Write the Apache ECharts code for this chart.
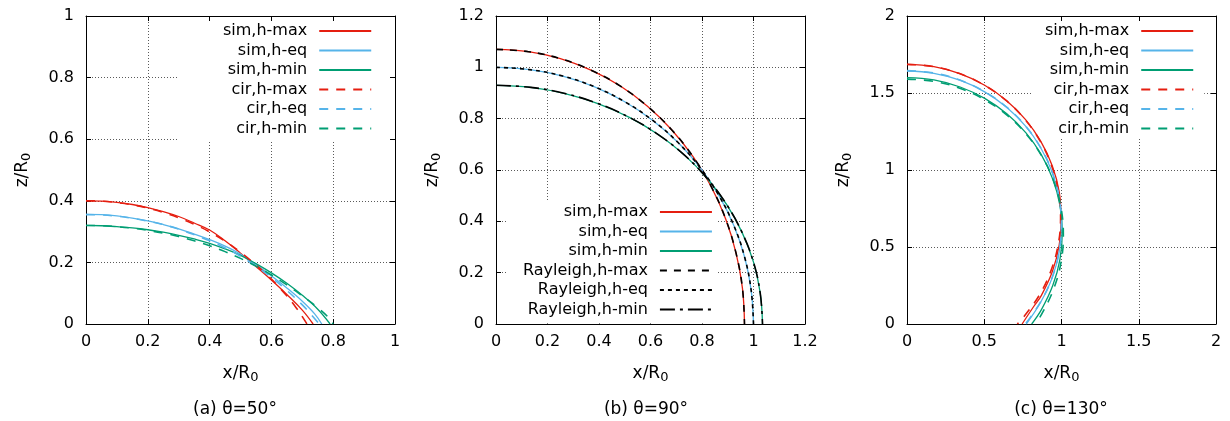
<!DOCTYPE html>
<html><head><meta charset="utf-8">
<script src="https://cdn.jsdelivr.net/npm/echarts@6/dist/echarts.min.js"></script>
<style>html,body{margin:0;padding:0;background:#fff}#c{width:1230px;height:421px}</style>
</head><body><div id="c"></div>
<script>
// ---------- data (x/R0, z/R0) ----------
// (a) theta = 50 deg
const aSimMax = [[0,0.400],[0.05,0.399],[0.1,0.395],[0.15,0.388],[0.2,0.378],[0.25,0.365],[0.3,0.349],[0.35,0.328],[0.4,0.305],[0.45,0.270],[0.5,0.230],[0.55,0.187],[0.6,0.143],[0.65,0.096],[0.7,0.045],[0.735,0]];
const aSimEq  = [[0,0.356],[0.05,0.355],[0.1,0.351],[0.15,0.344],[0.2,0.335],[0.25,0.323],[0.3,0.309],[0.35,0.292],[0.4,0.274],[0.45,0.253],[0.5,0.227],[0.55,0.193],[0.6,0.156],[0.65,0.117],[0.7,0.074],[0.74,0.033],[0.763,0]];
const aSimMin = [[0,0.320],[0.05,0.319],[0.1,0.316],[0.15,0.312],[0.2,0.306],[0.25,0.298],[0.3,0.288],[0.35,0.276],[0.4,0.262],[0.45,0.244],[0.5,0.223],[0.55,0.196],[0.6,0.166],[0.65,0.132],[0.7,0.093],[0.75,0.048],[0.79,0]];
const aCirMax = [[0,0.400],[0.05,0.399],[0.1,0.394],[0.15,0.387],[0.2,0.376],[0.25,0.362],[0.3,0.345],[0.35,0.324],[0.4,0.299],[0.45,0.269],[0.5,0.233],[0.55,0.192],[0.6,0.146],[0.65,0.091],[0.68,0.053],[0.7,0.024],[0.715,0]];
const aCirEq  = [[0,0.355],[0.05,0.354],[0.1,0.350],[0.15,0.343],[0.2,0.334],[0.25,0.323],[0.3,0.308],[0.35,0.290],[0.4,0.270],[0.45,0.247],[0.5,0.220],[0.55,0.188],[0.6,0.151],[0.65,0.109],[0.7,0.062],[0.73,0.029],[0.755,0]];
const aCirMin = [[0,0.320],[0.05,0.319],[0.1,0.316],[0.15,0.311],[0.2,0.304],[0.25,0.295],[0.3,0.284],[0.35,0.270],[0.4,0.254],[0.45,0.235],[0.5,0.213],[0.55,0.188],[0.6,0.159],[0.65,0.127],[0.7,0.091],[0.75,0.053],[0.78,0.026],[0.8,0]];
// (b) theta = 90 deg
const bSimMax = [[0,1.070],[0.126,1.061],[0.250,1.034],[0.369,0.989],[0.483,0.927],[0.587,0.849],[0.682,0.757],[0.766,0.651],[0.836,0.535],[0.892,0.409],[0.932,0.277],[0.957,0.140],[0.965,0]];
const bSimEq  = [[0,1.000],[0.131,0.991],[0.259,0.966],[0.383,0.924],[0.500,0.866],[0.609,0.793],[0.707,0.707],[0.793,0.609],[0.866,0.500],[0.924,0.383],[0.966,0.259],[0.991,0.131],[1.000,0]];
const bSimMin = [[0,0.930],[0.135,0.922],[0.268,0.898],[0.396,0.859],[0.518,0.805],[0.630,0.738],[0.732,0.658],[0.821,0.566],[0.896,0.465],[0.956,0.356],[1.000,0.241],[1.026,0.121],[1.035,0]];
const bRayMax = [[0,1.070],[0.126,1.061],[0.250,1.034],[0.369,0.989],[0.483,0.927],[0.587,0.849],[0.682,0.757],[0.766,0.651],[0.836,0.535],[0.892,0.409],[0.932,0.277],[0.957,0.140],[0.965,0]];
const bRayEq  = [[0,1.000],[0.131,0.991],[0.259,0.966],[0.383,0.924],[0.500,0.866],[0.609,0.793],[0.707,0.707],[0.793,0.609],[0.866,0.500],[0.924,0.383],[0.966,0.259],[0.991,0.131],[1.000,0]];
const bRayMin = [[0,0.930],[0.135,0.922],[0.268,0.898],[0.396,0.859],[0.518,0.805],[0.630,0.738],[0.732,0.658],[0.821,0.566],[0.896,0.465],[0.956,0.356],[1.000,0.241],[1.026,0.121],[1.035,0]];
// (c) theta = 130 deg
const cSimMax = [[0,1.686],[0.174,1.671],[0.342,1.626],[0.500,1.552],[0.643,1.452],[0.766,1.329],[0.866,1.186],[0.940,1.028],[0.985,0.860],[0.997,0.686],[0.985,0.512],[0.942,0.344],[0.870,0.186],[0.819,0.112],[0.745,0]];
const cSimEq  = [[0,1.643],[0.174,1.628],[0.342,1.583],[0.500,1.509],[0.643,1.409],[0.766,1.286],[0.866,1.143],[0.940,0.985],[0.985,0.817],[1.000,0.643],[0.985,0.469],[0.940,0.301],[0.866,0.143],[0.772,0]];
const cSimMin = [[0,1.600],[0.174,1.585],[0.344,1.539],[0.503,1.465],[0.646,1.365],[0.770,1.241],[0.870,1.098],[0.944,0.939],[0.990,0.770],[1.005,0.595],[0.990,0.420],[0.944,0.251],[0.870,0.093],[0.807,0]];
const cCirMax = [[0,1.686],[0.173,1.671],[0.340,1.626],[0.497,1.553],[0.639,1.453],[0.761,1.331],[0.861,1.189],[0.934,1.032],[0.979,0.865],[0.994,0.692],[0.979,0.519],[0.934,0.352],[0.861,0.195],[0.761,0.053],[0.714,0]];
const cCirEq  = [[0,1.645],[0.174,1.630],[0.342,1.584],[0.500,1.510],[0.643,1.410],[0.766,1.287],[0.866,1.144],[0.940,0.986],[0.985,0.818],[1.000,0.645],[0.985,0.471],[0.940,0.303],[0.866,0.145],[0.766,0]];
const cCirMin = [[0,1.590],[0.176,1.575],[0.346,1.529],[0.506,1.454],[0.651,1.353],[0.775,1.229],[0.876,1.084],[0.951,0.924],[0.997,0.754],[1.012,0.578],[0.997,0.402],[0.951,0.232],[0.876,0.072],[0.831,0]];

// axes
const axisMax  = [1, 1.2, 2];
const axisStep = [0.2, 0.2, 0.5];
const panelTitles = ['(a) θ=50°', '(b) θ=90°', '(c) θ=130°'];
const legendNames = [
  ['sim,h-max','sim,h-eq','sim,h-min','cir,h-max','cir,h-eq','cir,h-min'],
  ['sim,h-max','sim,h-eq','sim,h-min','Rayleigh,h-max','Rayleigh,h-eq','Rayleigh,h-min'],
  ['sim,h-max','sim,h-eq','sim,h-min','cir,h-max','cir,h-eq','cir,h-min']
];

// ---------- styling / layout ----------
const FONT = 'DejaVu Sans';
const RED = '#e51e10', BLUE = '#56b4e9', GREEN = '#009e73', BLACK = '#000000';
const gridLeft = [86, 496, 907];
const GW = 309, GT = 16, GH = 308;
const titleX = [235, 646, 1061];

const curves = [
  {p:0, name:'sim,h-max', d:aSimMax, c:RED,   t:'solid', w:1.3},
  {p:0, name:'sim,h-eq',  d:aSimEq,  c:BLUE,  t:'solid', w:1.3},
  {p:0, name:'sim,h-min', d:aSimMin, c:GREEN, t:'solid', w:1.3},
  {p:0, name:'cir,h-max', d:aCirMax, c:RED,   t:[9,8], w:1.6},
  {p:0, name:'cir,h-eq',  d:aCirEq,  c:BLUE,  t:[9,8], w:1.6},
  {p:0, name:'cir,h-min', d:aCirMin, c:GREEN, t:[9,8], w:1.6},
  {p:1, name:'sim,h-max', d:bSimMax, c:RED,   t:'solid', w:1.3},
  {p:1, name:'sim,h-eq',  d:bSimEq,  c:BLUE,  t:'solid', w:1.3},
  {p:1, name:'sim,h-min', d:bSimMin, c:GREEN, t:'solid', w:1.3},
  {p:1, name:'Rayleigh,h-max', d:bRayMax, c:BLACK, t:[7,7], w:1.6},
  {p:1, name:'Rayleigh,h-eq',  d:bRayEq,  c:BLACK, t:[4,4], w:1.6},
  {p:1, name:'Rayleigh,h-min', d:bRayMin, c:BLACK, t:[15,5,3,5], w:1.6},
  {p:2, name:'sim,h-max', d:cSimMax, c:RED,   t:'solid', w:1.3},
  {p:2, name:'sim,h-eq',  d:cSimEq,  c:BLUE,  t:'solid', w:1.3},
  {p:2, name:'sim,h-min', d:cSimMin, c:GREEN, t:'solid', w:1.3},
  {p:2, name:'cir,h-max', d:cCirMax, c:RED,   t:[9,8], w:1.6},
  {p:2, name:'cir,h-eq',  d:cCirEq,  c:BLUE,  t:[9,8], w:1.6},
  {p:2, name:'cir,h-min', d:cCirMin, c:GREEN, t:[9,8], w:1.6}
];

const legendBox = [
  {left:177, top:16,  padding:[7,24,4,46]},
  {left:507, top:201, padding:[3,4,6,16]},
  {left:1033, top:16, padding:[7,10,1,12]}
];

const rich = {
  a: {fontFamily: FONT, fontSize: 17, color: '#000', lineHeight: 20},
  s: {fontFamily: FONT, fontSize: 13, color: '#000', lineHeight: 8, verticalAlign: 'bottom'}
};

const grids = [], xAxes = [], yAxes = [], legends = [], graphics = [];
for (let i = 0; i < 3; i++) {
  grids.push({left: gridLeft[i], top: GT, width: GW, height: GH, containLabel: false});
  const common = {gridIndex: i, type: 'value', min: 0, max: axisMax[i], interval: axisStep[i]};
  const line = {show: true, onZero: false, lineStyle: {color: '#000', width: 1}};
  const tick = {show: true, inside: true, length: 5, lineStyle: {color: '#000', width: 1}};
  const split = {show: true, lineStyle: {color: '#5a5a5a', width: 1, type: [1, 2]}};
  const label = {color: '#000', fontFamily: FONT, fontSize: 16, margin: 10};
  xAxes.push(Object.assign({}, common, {
    position: 'bottom', axisLine: line, axisTick: tick, splitLine: split, axisLabel: label, z: 0,
    name: '{a|x/R}{s|0}', nameLocation: 'middle', nameGap: 40, nameTextStyle: {rich: rich}
  }));
  xAxes.push(Object.assign({}, common, {
    position: 'top', axisLine: line, axisTick: tick, splitLine: {show: false}, axisLabel: {show: false}, z: 5
  }));
  yAxes.push(Object.assign({}, common, {
    position: 'left', axisLine: line, axisTick: tick, splitLine: split,
    axisLabel: Object.assign({}, label, {margin: 12}), z: 0,
    name: '{a|z/R}{s|0}', nameLocation: 'middle', nameGap: 53, nameRotate: 90, nameTextStyle: {rich: rich}
  }));
  yAxes.push(Object.assign({}, common, {
    position: 'right', axisLine: line, axisTick: tick, splitLine: {show: false}, axisLabel: {show: false}, z: 5
  }));
  legends.push(Object.assign({
    orient: 'vertical', align: 'right', itemWidth: 52, itemHeight: 14, itemGap: 3.5,
    backgroundColor: '#ffffff', z: 1, selectedMode: false, data: legendNames[i],
    itemStyle: {opacity: 0, borderWidth: 0},
    textStyle: {fontFamily: FONT, fontSize: 16, color: '#000', padding: [0, 7, 0, 0]}
  }, legendBox[i]));
  graphics.push({
    type: 'text', x: titleX[i], y: 410,
    style: {text: panelTitles[i], fontFamily: FONT, fontSize: 17, fill: '#000', align: 'center', verticalAlign: 'middle'}
  });
}

const series = curves.map(cv => ({
  type: 'line', name: cv.name, xAxisIndex: 2 * cv.p, yAxisIndex: 2 * cv.p,
  data: cv.d, showSymbol: false, symbol: 'none', smooth: 0.4, z: 2,
  lineStyle: {color: cv.c, width: cv.w, type: cv.t},
  itemStyle: {color: cv.c}, emphasis: {disabled: true}
}));

const chart = echarts.init(document.getElementById('c'), null, {renderer: 'canvas'});
chart.setOption({
  animation: false, backgroundColor: '#ffffff',
  grid: grids, xAxis: xAxes, yAxis: yAxes, legend: legends, series: series, graphic: graphics
});
</script></body></html>
